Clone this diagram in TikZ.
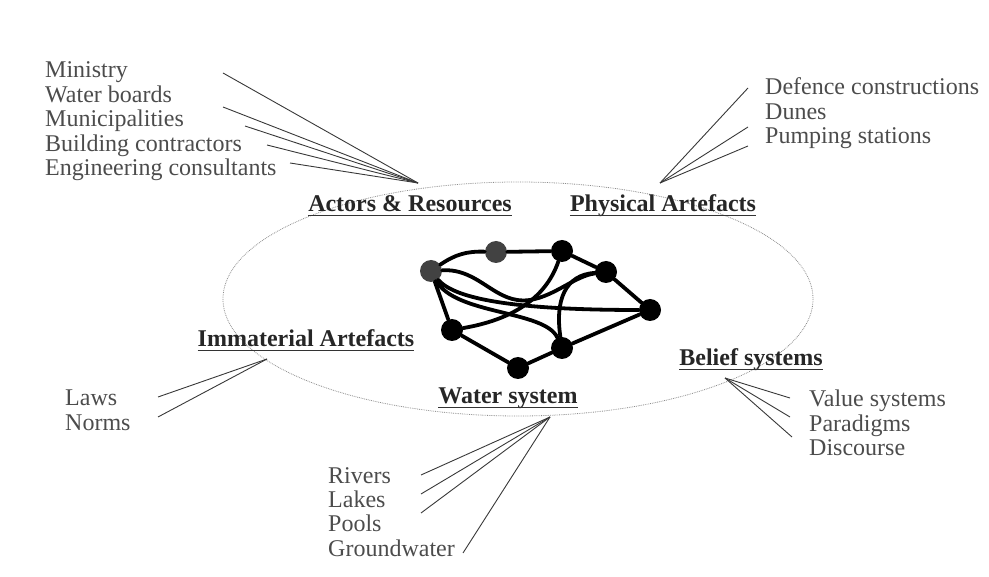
\documentclass[tikz,border=0pt]{standalone}
\usepackage{fontspec}
\setmainfont{Liberation Serif}
\usetikzlibrary{positioning,calc}

\begin{document}
\begin{tikzpicture}[
    x=1pt, y=-1pt,
    item/.style={text=black!70, font=\fontsize{24}{24.5}\selectfont, inner sep=0pt, anchor=base west},
    head/.style={text=black!85, font=\fontsize{24}{24.5}\selectfont\bfseries, inner sep=0pt, anchor=base},
    rule/.style={draw=black!80, line width=1.4pt},
    spoke/.style={draw=black!78, line width=0.9pt},
    vertex/.style={circle, fill=black, minimum size=22pt, inner sep=0pt},
    pale/.style={vertex, fill=black!74},
    link/.style={line width=3.8pt, line cap=round},
]

\useasboundingbox (0,0) rectangle (989,577);

\draw[black!45, densely dotted, line width=0.8pt] (518,299) ellipse [x radius=295, y radius=117];

\node[head] (act) at (410,212) {Actors \& Resources};
\node[head] (phy) at (663,212) {Physical Artefacts};
\node[head] (imm) at (306,347) {Immaterial Artefacts};
\node[head] (wat) at (508,404) {Water system};
\node[head] (bel) at (751,366) {Belief systems};

\foreach \h in {act,phy,imm,wat,bel}
    \draw[rule] ([yshift=-3.5pt]\h.base west) -- ([yshift=-3.5pt]\h.base east);

\foreach \txt [count=\i] in {Ministry, Water boards, Municipalities, Building contractors, Engineering consultants}
    \node[item] (actor\i) at (45,78+24.4*\i-24.4) {\txt};
\foreach \txt [count=\i] in {Defence constructions, Dunes, Pumping stations}
    \node[item] (phys\i) at (765,95+24.5*\i-24.5) {\txt};
\foreach \txt [count=\i] in {Laws, Norms}
    \node[item] (imma\i) at (65,406+24.5*\i-24.5) {\txt};
\foreach \txt [count=\i] in {Rivers, Lakes, Pools, Groundwater}
    \node[item] (watr\i) at (328,483+24.4*\i-24.4) {\txt};
\foreach \txt [count=\i] in {Value systems, Paradigms, Discourse}
    \node[item] (blf\i) at (809,407+24.4*\i-24.4) {\txt};

\coordinate (act hub) at (418,183);
\coordinate (phy hub) at (660,183);
\coordinate (imm hub) at (267,359);
\coordinate (wat hub) at (550,417);
\coordinate (bel hub) at (725,378);

\foreach \px/\py [count=\i] in {223/73, 223/107, 245/126, 267/145, 290/163} {
    \coordinate (act end\i) at (\px,\py);
    \draw[spoke] (act hub) -- (act end\i);
}
\foreach \px/\py [count=\i] in {748/88, 748/127, 748/146} {
    \coordinate (phy end\i) at (\px,\py);
    \draw[spoke] (phy hub) -- (phy end\i);
}
\foreach \px/\py [count=\i] in {158/397, 158/417} {
    \coordinate (imm end\i) at (\px,\py);
    \draw[spoke] (imm hub) -- (imm end\i);
}
\foreach \px/\py [count=\i] in {421/475, 421/494, 421/513, 463/553} {
    \coordinate (wat end\i) at (\px,\py);
    \draw[spoke] (wat hub) -- (wat end\i);
}
\foreach \px/\py [count=\i] in {790/398, 790/417, 792/437} {
    \coordinate (bel end\i) at (\px,\py);
    \draw[spoke] (bel hub) -- (bel end\i);
}

\node[pale] (n1) at (431,271) {};
\node[pale] (n2) at (496,252) {};
\node[vertex] (n3) at (562,251) {};
\node[vertex] (n4) at (606,272) {};
\node[vertex] (n5) at (650,310) {};
\node[vertex] (n6) at (452,330) {};
\node[vertex] (n7) at (562,348) {};
\node[vertex] (n8) at (518,368) {};

\draw[link] (n1) to[bend left=18] (n2);
\draw[link] (n2) -- (n3) -- (n4) -- (n5) -- (n7) -- (n8) -- (n6) -- (n1);
\draw[link] (n1) .. controls (480,268) and (495,305) .. (530,300) .. controls (555,296) and (575,276) .. (n4);
\draw[link] (n1) .. controls (455,300) and (520,310) .. (n5);
\draw[link] (n1) .. controls (455,315) and (545,310) .. (n7);
\draw[link] (n6) .. controls (510,320) and (545,300) .. (n3);
\draw[link] (n7) .. controls (555,300) and (565,275) .. (n4);

\end{tikzpicture}
\end{document}
